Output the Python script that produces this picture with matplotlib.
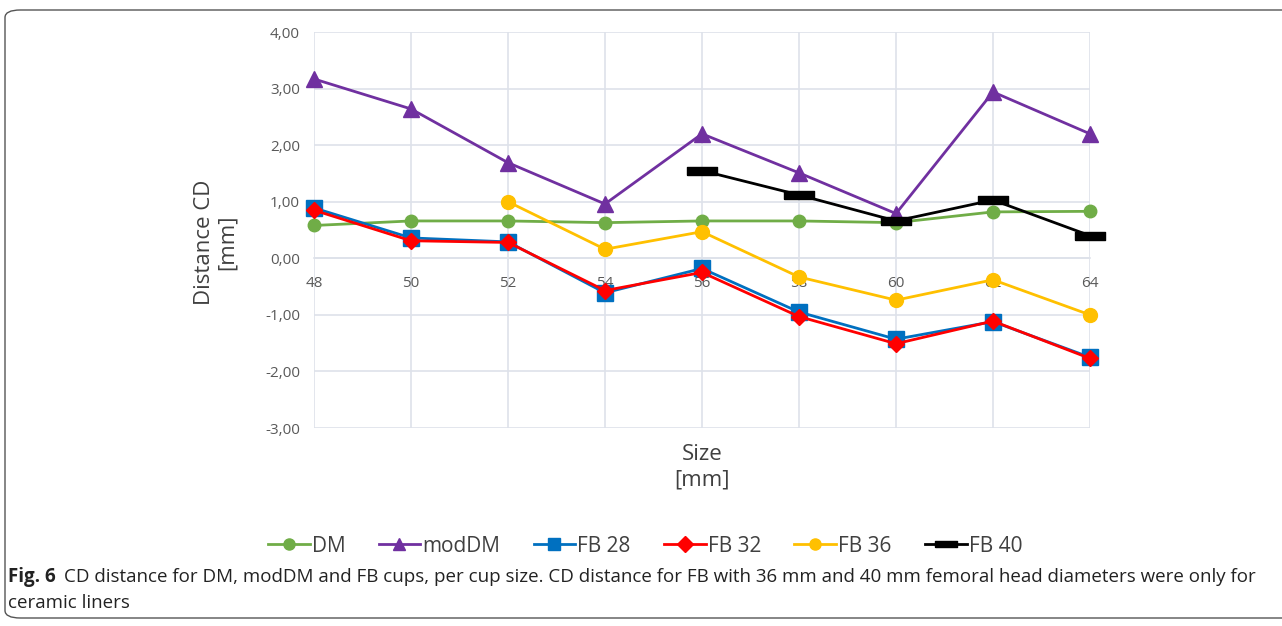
import numpy as np
import matplotlib
matplotlib.use('Agg')
import matplotlib.pyplot as plt
from matplotlib.patches import FancyBboxPatch
from matplotlib.lines import Line2D

sizes = ['48', '50', '52', '54', '56', '58', '60', '62', '64']
nan = np.nan
dm = [0.58, 0.66, 0.66, 0.63, 0.66, 0.66, 0.63, 0.82, 0.83]
moddm = [3.17, 2.64, 1.69, 0.96, 2.20, 1.51, 0.79, 2.94, 2.20]
fb28 = [0.89, 0.36, 0.29, -0.61, -0.18, -0.95, -1.43, -1.12, -1.75]
fb32 = [0.85, 0.31, 0.28, -0.57, -0.25, -1.03, -1.51, -1.11, -1.77]
fb36 = [nan, nan, 1.00, 0.16, 0.47, -0.33, -0.74, -0.38, -1.00]
fb40 = [nan, nan, nan, nan, 1.55, 1.12, 0.66, 1.03, 0.40]
yticks = [-3, -2, -1, 0, 1, 2, 3, 4]
caption_bold = 'Fig. 6'
caption = ('CD distance for DM, modDM and FB cups, per cup size. CD distance for FB with '
           '36 mm and 40 mm femoral head diameters were only for')
caption2 = 'ceramic liners'

plt.rcParams['font.family'] = ['Open Sans', 'DejaVu Sans']

fig = plt.figure(figsize=(12.82, 6.26), dpi=100)
# rounded frame
frame = FancyBboxPatch((5 / 1282, 8 / 626), 1.1, 1 - 18 / 626, transform=fig.transFigure,
                       boxstyle='round,pad=0,rounding_size=0.012', fill=False,
                       edgecolor='#555555', linewidth=1.0)
fig.patches.append(frame)

ax = fig.add_axes([314 / 1282, 1 - 428 / 626, 776 / 1282, 396 / 626])
x = np.arange(len(sizes))
grid_c = '#DEE2EA'

# bar marker for FB 40
bar = [(-1.6, -0.45), (1.6, -0.45), (1.6, 0.45), (-1.6, 0.45), (-1.6, -0.45)]

series = [
    ('DM', dm, '#70AD47', 'o', 9),
    ('modDM', moddm, '#7030A0', '^', 11),
    ('FB 28', fb28, '#0070C0', 's', 11),
    ('FB 32', fb32, '#FF0000', 'D', 8),
    ('FB 36', fb36, '#FFC000', 'o', 10),
    ('FB 40', fb40, '#000000', bar, 22),
]
handles = []
for name, vals, col, mk, ms in series:
    ax.plot(x, vals, color=col, lw=2, marker=mk, markersize=ms,
            markeredgecolor=col, markerfacecolor=col, zorder=3, clip_on=False)
    hm = 8 if mk is not bar else 16
    handles.append(Line2D([0], [0], color=col, lw=2, marker=mk, markersize=hm,
                          markeredgecolor=col, markerfacecolor=col))

ax.set_xlim(0, len(sizes) - 1)
ax.set_ylim(-3, 4)
ax.set_yticks(yticks)
ax.set_yticklabels([('%.2f' % v).replace('.', ',') for v in yticks])
ax.set_xticks(x)
ax.set_xticklabels(sizes)
ax.grid(True, color=grid_c, lw=1.2, zorder=0)
ax.set_axisbelow(True)
for s in ['top', 'right', 'left']:
    ax.spines[s].set_visible(False)
ax.spines['bottom'].set_position(('data', 0))
ax.spines['bottom'].set_color(grid_c)
ax.spines['bottom'].set_linewidth(1.2)
ax.tick_params(axis='both', length=0, colors='#595959', labelsize=11)
ax.tick_params(axis='x', pad=13)
ax.tick_params(axis='y', pad=10)

fig.text(216 / 1282, 1 - 242 / 626, 'Distance CD\n[mm]', rotation=90, ha='center', va='center',
         fontsize=16, color='#404040', linespacing=1.1)
fig.text(702 / 1282, 1 - 467 / 626, 'Size\n[mm]', ha='center', va='center',
         fontsize=16, color='#404040', linespacing=1.3)

fig.legend(handles, [s[0] for s in series], loc='center', ncol=6,
           bbox_to_anchor=(645 / 1282, 1 - 546 / 626), frameon=False,
           fontsize=15, handlelength=2.0, handletextpad=0.1, columnspacing=1.6,
           labelcolor='#404040')

fig.text(8 / 1282, 1 - 577 / 626, caption_bold, fontsize=13.5, fontweight='bold',
         va='center', ha='left', color='#222222')
fig.text(64 / 1282, 1 - 577 / 626, caption, fontsize=13.5, va='center', ha='left',
         color='#222222')
fig.text(8 / 1282, 1 - 603 / 626, caption2, fontsize=13.5, va='center', ha='left',
         color='#222222')

fig.savefig('out.png', dpi=100)
